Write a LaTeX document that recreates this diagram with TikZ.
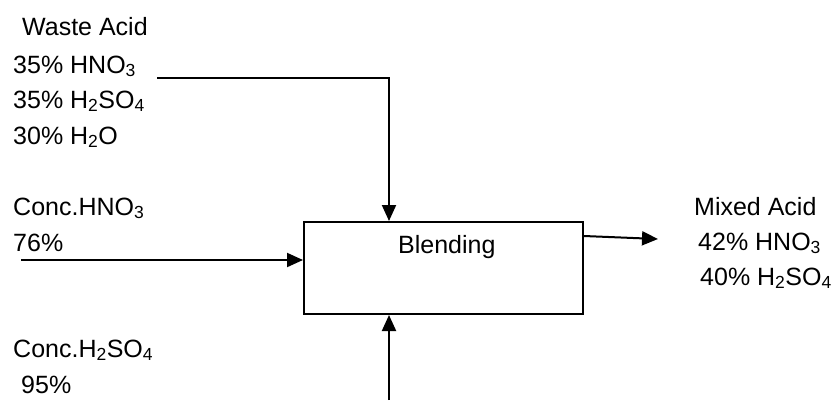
\documentclass[tikz,border=0pt]{standalone}
\usepackage{fontspec}
\setmainfont{Liberation Sans}
\usetikzlibrary{arrows.meta,calc}
\begin{document}
\begin{tikzpicture}[x=1pt,y=-1pt,
  lbl/.style={anchor=base west,inner sep=0pt,font=\fontsize{25}{30}\selectfont},
  boxstyle/.style={draw,line width=2pt,inner sep=0pt,anchor=north west,minimum width=279pt,minimum height=92pt},
  arr/.style={line width=2pt,-{Triangle[length=16pt,width=14pt]}}]
\useasboundingbox (0,0) rectangle (832,400);
% box
\node[boxstyle] (blend) at (303,221) {};
\node[lbl] (blendlbl) at (398,253) {Blending};
% waste acid
\node[lbl] (wa) at (22,35) {Waste Acid};
\node[lbl] (wa1) at (13,73) {35\% HNO\textsubscript{3}};
\node[lbl] (wa2) at (13,108) {35\% H\textsubscript{2}SO\textsubscript{4}};
\node[lbl] (wa3) at (13,144) {30\% H\textsubscript{2}O};
% conc HNO3
\node[lbl] (ch) at (13,215) {Conc.HNO\textsubscript{3}};
\node[lbl] (ch1) at (13,251) {76\%};
% conc H2SO4
\node[lbl] (cs) at (13,357) {Conc.H\textsubscript{2}SO\textsubscript{4}};
\node[lbl] (cs1) at (21,393) {95\%};
% mixed acid
\node[lbl] (ma) at (694,215) {Mixed Acid};
\node[lbl] (ma1) at (698,250) {42\% HNO\textsubscript{3}};
\node[lbl] (ma2) at (700,285) {40\% H\textsubscript{2}SO\textsubscript{4}};
% connectors
\coordinate (w0) at (157,78);
\coordinate (topin) at ([xshift=86pt]blend.north west);
\draw[arr] (w0) -| (topin);
\coordinate (h0) at (21,260);
\draw[arr] (h0) -- (blend.west |- h0);
\coordinate (b0) at (389,400);
\draw[arr] (b0) -- (b0 |- blend.south);
\coordinate (o0) at (blend.east |- 0,236);
\coordinate (o1) at (658,239);
\draw[arr] (o0) -- (o1);
\end{tikzpicture}
\end{document}
